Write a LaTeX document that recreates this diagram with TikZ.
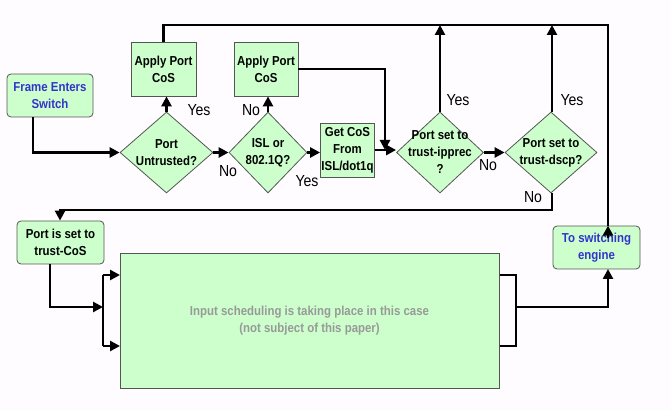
\documentclass[tikz,border=0pt]{standalone}
\usepackage{fontspec}
\setmainfont{Liberation Sans}[FakeStretch=0.88]
\usetikzlibrary{shapes.geometric,arrows.meta}
\definecolor{bg}{HTML}{FFFCFF}
\definecolor{boxfill}{HTML}{CCFFCC}
\definecolor{boxdraw}{HTML}{555555}
\definecolor{bluetext}{HTML}{3333CC}
\definecolor{graytext}{HTML}{999999}
\begin{document}
\begin{tikzpicture}[x=1pt,y=-1pt,
  txt/.style={font=\bfseries\fontsize{13}{17}\selectfont,align=center},
  box/.style={txt,draw=boxdraw,fill=boxfill,line width=0.8pt,inner sep=0pt},
  rbox/.style={box,rounded corners=4pt},
  dia/.style={draw=boxdraw,fill=boxfill,line width=0.8pt,shape=diamond,inner sep=0pt},
  flow/.style={line width=2.8pt},
  arr/.style={flow,-{Triangle[length=10pt,width=10pt]}},
  lab/.style={font=\fontsize{16}{16}\selectfont,inner sep=0pt}]
\useasboundingbox (0,0) rectangle (671,411);
\fill[bg] (0,0) rectangle (671,411);

% nodes
\node[rbox,minimum width=86pt,minimum height=43pt,text=bluetext] (frame) at (50,95.5) {Frame Enters\\Switch};
\node[box,minimum width=65pt,minimum height=54pt] (apply1) at (163.5,69) {Apply Port\\CoS};
\node[box,minimum width=64pt,minimum height=54pt] (apply2) at (266,69) {Apply Port\\CoS};
\node[dia,minimum width=93pt,minimum height=81pt,label={[txt]center:Port\\Untrusted?}] (d1) at (166.5,152.5) {};
\node[dia,minimum width=78pt,minimum height=81pt,label={[txt]center:ISL or\\802.1Q?}] (d2) at (268,152.5) {};
\node[box,minimum width=54pt,minimum height=54pt] (getcos) at (347.5,150) {Get CoS\\From\\ISL/dot1q};
\node[dia,minimum width=87pt,minimum height=81pt,label={[txt]center:Port set to\\trust-ipprec\\?}] (d3) at (440,152.5) {};
\node[dia,minimum width=92pt,minimum height=81pt,label={[txt]center:Port set to\\trust-dscp?}] (d4) at (551,152.5) {};
\node[rbox,minimum width=87pt,minimum height=43pt,text=bluetext] (toswitch) at (596.5,247.5) {To switching\\engine};
\node[rbox,minimum width=87pt,minimum height=43pt] (trustcos) at (60.5,242.5) {Port is set to\\trust-CoS};
\node[box,minimum width=379pt,minimum height=135pt,text=graytext] (input) at (309.5,320.5) {Input scheduling is taking place in this case\\(not subject of this paper)};

% helper coordinates
\coordinate (topL) at (163.5,25);
\coordinate (topR) at (608,25);
\coordinate (toIn) at (608,269);
\coordinate (j3) at (385,69);
\coordinate (j3b) at (385,150);
\coordinate (t3) at (440,25);
\coordinate (t4) at (552,25);
\coordinate (n4) at (552,210);
\coordinate (nL) at (60,210);
\coordinate (bL) at (103,307);
\coordinate (bLt) at (103,275);
\coordinate (bLb) at (103,346);
\coordinate (iLt) at (120,275);
\coordinate (iLb) at (120,346);
\coordinate (iRt) at (499.5,275);
\coordinate (iRb) at (499.5,346);
\coordinate (bRt) at (516,275);
\coordinate (bRb) at (516,346);
\coordinate (bR) at (516,307);

% connectors
\draw[arr] ([xshift=-17pt]frame.south) |- (d1.west);
\draw[arr] (d1.north) -- (d1.north |- apply1.south);
\draw[arr] (d1.east) -- (d2.west);
\draw[arr] (d2.north) -- (d2.north |- apply2.south);
\draw[arr] (d2.east) -- (d2.east -| getcos.west);
\draw[flow] (apply1.north) -- (topL) -- (topR) -- (topR |- toswitch.north);
\draw[arr] ([yshift=-12pt]topR |- toswitch.north) -- (topR |- toswitch.north);
\draw[arr] (apply2.east |- j3) -- (j3) -- (j3b);
\draw[arr] (getcos.east) -- (getcos.east -| d3.west);
\draw[arr] (d3.north) -- (t3);
\draw[arr] (d3.east) -- (d4.west);
\draw[arr] (d4.north -| t4) -- (t4);
\draw[arr] (d4.south -| n4) -- (n4) -- (nL) -- (nL |- trustcos.north);
\draw[arr] (trustcos.south -| 50,0) |- (bL);
\draw[flow] (bLt) -- (bLb);
\draw[arr] (bLt) -- (iLt);
\draw[arr] (bLb) -- (iLb);
\draw[flow] (iRt) -- (bRt) -- (bRb) -- (iRb);
\draw[arr] (bR) -| (toIn);

% labels
\node[lab] (y1) at (199,110) {Yes};
\node[lab] (n1) at (228,171) {No};
\node[lab] (n2) at (251,110) {No};
\node[lab] (y2) at (307,181) {Yes};
\node[lab] (y3) at (458,100) {Yes};
\node[lab] (n3) at (488,165) {No};
\node[lab] (y4) at (572,100) {Yes};
\node[lab] (n4l) at (533,197) {No};
\end{tikzpicture}
\end{document}
